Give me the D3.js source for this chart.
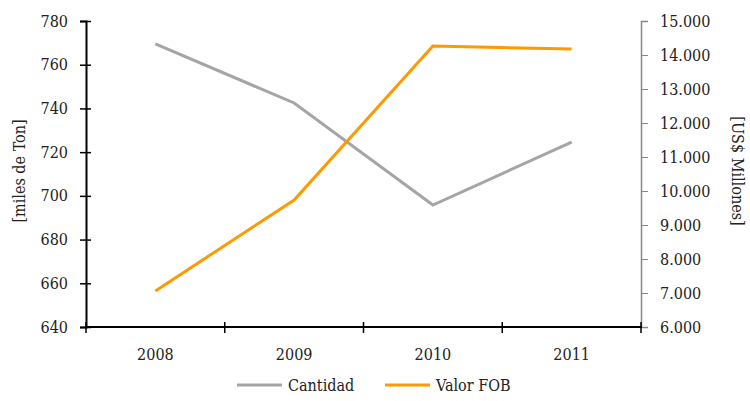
<!DOCTYPE html>
<html><head><meta charset="utf-8">
<script src="https://cdn.jsdelivr.net/npm/d3@7"></script>
<style>body{margin:0;background:#fff}</style>
</head><body><svg id="c" width="750" height="401"></svg>
<script>
const years = ["2008","2009","2010","2011"];
const cantidad = [769.5, 742.5, 695.8, 724.6];
const valorFOB = [7060, 9735, 14265, 14176];
const leftTicks = [640,660,680,700,720,740,760,780];
const rightTicks = [6000,7000,8000,9000,10000,11000,12000,13000,14000,15000];

const FONT = "'DejaVu Serif Condensed', 'DejaVu Serif'";
const svg = d3.select("#c");
const L=86, R=641, T=21, B=327;
const x = d3.scaleBand().domain(years).range([L,R]);
const yL = d3.scaleLinear().domain([640,780]).range([B,T]);
const yR = d3.scaleLinear().domain([6000,15000]).range([B,T]);
const fmtR = v => (v/1000).toFixed(3);

function styleText(sel, size){
  return sel.style("font-size",size+"px").style("font-family",FONT).style("font-stretch","condensed").attr("fill","#222");
}

// right axis
const gR = svg.append("g").attr("transform",`translate(${R},0)`)
  .call(d3.axisRight(yR).tickValues(rightTicks).tickFormat(fmtR).tickSize(7).tickPadding(12));
gR.attr("font-family",null);
gR.select(".domain").attr("stroke","#888").attr("stroke-width",1.5);
gR.selectAll(".tick line").attr("stroke","#888").attr("stroke-width",1);
styleText(gR.selectAll("text"),16);

// left axis
const gL = svg.append("g").attr("transform",`translate(${L},0)`)
  .call(d3.axisLeft(yL).tickValues(leftTicks).tickSize(6).tickPadding(12));
gL.attr("font-family",null);
gL.select(".domain").attr("stroke","#000").attr("stroke-width",2);
gL.selectAll(".tick line").attr("stroke","#000").attr("stroke-width",1.5).attr("x2",-6).attr("x1",5);
styleText(gL.selectAll("text"),16);

// x axis
const gX = svg.append("g").attr("transform",`translate(0,${B})`);
gX.append("line").attr("x1",L-1).attr("x2",R+1).attr("stroke","#000").attr("stroke-width",2);
const edges = years.map(y=>x(y)).concat([R]);
gX.selectAll("line.t").data(edges).join("line").attr("class","t")
  .attr("x1",d=>d).attr("x2",d=>d).attr("y1",-5).attr("y2",6).attr("stroke","#000").attr("stroke-width",1.5);
styleText(gX.selectAll("text").data(years).join("text")
  .attr("x",d=>x(d)+x.bandwidth()/2).attr("y",33).attr("text-anchor","middle").text(d=>d),16);

// lines
const cx = d=>x(d)+x.bandwidth()/2;
svg.append("path").datum(years.map((y,i)=>[cx(y),yL(cantidad[i])]))
  .attr("d",d3.line()).attr("fill","none").attr("stroke","#A5A5A5").attr("stroke-width",3);
svg.append("path").datum(years.map((y,i)=>[cx(y),yR(valorFOB[i])]))
  .attr("d",d3.line()).attr("fill","none").attr("stroke","#FF9900").attr("stroke-width",3);

// axis titles
styleText(svg.append("text").attr("transform","translate(25,171) rotate(-90)").attr("text-anchor","middle").text("[miles de Ton]"),16);
styleText(svg.append("text").attr("transform","translate(732,171) rotate(90)").attr("text-anchor","middle").text("[US$ Millones]"),16);

// legend
const leg = [{n:"Cantidad",c:"#A5A5A5",x:237},{n:"Valor FOB",c:"#FF9900",x:385}];
const lg = svg.selectAll("g.leg").data(leg).join("g").attr("class","leg").attr("transform",d=>`translate(${d.x},385)`);
lg.append("line").attr("x1",0).attr("x2",45).attr("stroke",d=>d.c).attr("stroke-width",3);
styleText(lg.append("text").attr("x",51).attr("y",6).text(d=>d.n),16);
</script></body></html>
